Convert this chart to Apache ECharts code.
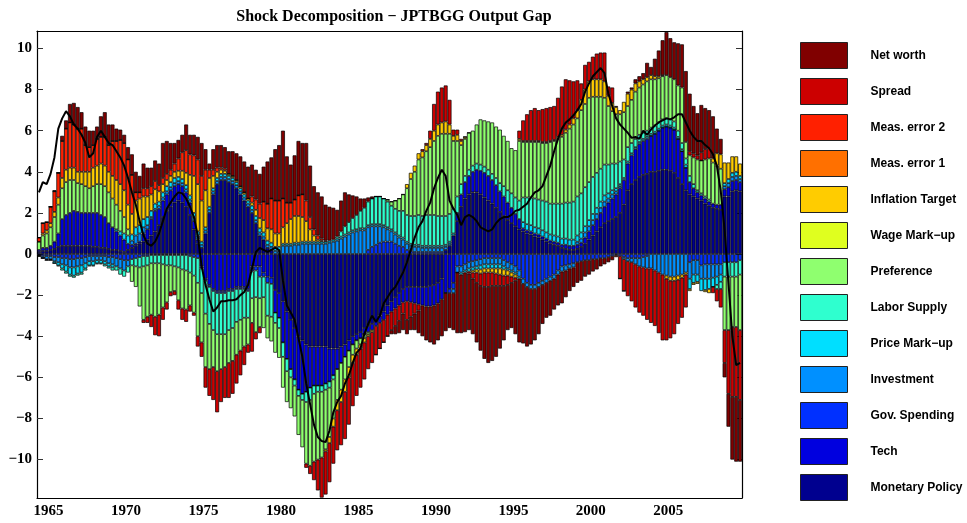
<!DOCTYPE html>
<html>
<head>
<meta charset="utf-8">
<script src="https://cdn.jsdelivr.net/npm/echarts@6/dist/echarts.min.js"></script>
<style>
  html, body { margin: 0; padding: 0; background: #fff; }
  #chart { width: 967px; height: 523px; }
</style>
</head>
<body>
<div id="chart"></div>
<script>
// quarterly sample 1964Q2 .. 2009Q3
const startYear = 1964, startQuarter = 2, nQuarters = 182;
const quarters = [];
for (let k = 0; k < nQuarters; k++) {
  const q = startQuarter - 1 + k;
  quarters.push((startYear + Math.floor(q / 4)) + 'Q' + (q % 4 + 1));
}
const xTickYears = [1965, 1970, 1975, 1980, 1985, 1990, 1995, 2000, 2005];
const yTicks = [-10, -8, -6, -4, -2, 0, 2, 4, 6, 8, 10];

// shock contributions
const monetary = [
  .1,.15,.15,.2,.25,.35,.4,.4,.4,.4, .4,.4,.4,.4,.35,.35,.3,.3,.25,.2,
  .2,.15,.1,.2,.3,.4,.5,.6,.7,.9, 1.1,1.4,1.8,2.1,2.3,2.5,2.6,2.5,2.3,1.9,
  1.2,.5,.3,1.0,2.0,2.9,3.4,3.6,3.6,3.5, 3.4,3.2,2.9,2.6,2.3,2.0,1.5,.9,.7,.3,
  .2,-1.75,-1.9,-2.3,-2.8,-3.2,-3.6,-4.0,-4.2,-4.4, -4.5,-4.5,-4.5,-4.5,-4.5,-4.6,-4.6,-4.6,-4.5,-4.4,
  -4.2,-4.0,-3.9,-3.8,-3.6,-3.5,-3.4,-3.2,-3.0,-2.8, -2.5,-2.3,-2.1,-1.9,-1.7,-1.6,-1.6,-1.6,-1.6,-1.6,
  -1.6,-1.55,-1.5,-1.4,-1.2,.2,.4,.9,1.6,2.3, 2.7,2.9,3.0,3.0,2.9,2.75,2.6,2.45,2.25,2.05,
  1.85,1.65,1.5,1.35,1.2,1.1,1.0,.95,.85,.8, .7,.6,.5,.45,.4,.3,.25,.2,.2,.25,
  .35,.5,.7,.9,1.1,1.3,1.5,1.6,1.7,1.8, 2.0,2.4,3.1,3.4,3.6,3.75,3.85,3.9,4.0,4.0,
  4.05,4.1,4.1,4.05,3.95,3.7,3.4,3.1,2.9,2.8, 2.7,2.6,2.45,2.35,2.25,2.2,2.15,2.8,2.8,3.05,
  3.1,3.05
];
const tech = [
  .1,.15,.15,.2,.35,.65,1.3,1.5,1.6,1.7, 1.65,1.6,1.6,1.6,1.65,1.65,1.6,1.5,1.25,1.1,
  .9,.75,.6,.3,.15,.1,.1,.4,.5,.8, 1.0,.8,.8,.8,.8,.8,.8,.8,.7,.6,
  .4,.2,-.6,-1.2,-1.5,-1.7,-1.8,-1.8,-1.8,-1.7, -1.7,-1.6,-1.6,-1.6,-1.7,-.6,-.6,-.6,-.9,-1.1,
  -1.15,-1.1,-1.2,-2.0,-2.3,-2.4,-2.5,-2.6,-2.6,-2.3, -2.0,-1.9,-1.9,-1.9,-1.8,-1.6,-1.3,-1.0,-.8,-.6,
  -.5,-.4,-.3,-.3,-.3,-.3,-.3,-.3,-.35,-.4, -.45,-.5,-.55,-.6,-.65,-.7,-.75,-.8,-.85,-.9,
  -.95,-1.0,-1.0,-1.0,-1.0,-1.9,-1.7,-1.4,.4,.6, .8,.9,1.0,1.1,1.15,1.2,1.2,1.15,1.1,1.0,
  .95,.85,.75,.6,.5,.15,.15,.15,.15,.15, .15,.15,.15,.15,.15,.15,.2,.2,.2,.2,
  .2,.3,.4,.5,.6,.7,.8,.9,1.0,1.1, 1.2,1.2,1.3,1.4,1.5,1.6,1.65,1.7,1.75,1.85,
  1.95,2.05,2.1,2.1,2.1,1.9,1.6,1.1,.6,.4, .3,.25,.25,.2,.2,.2,.25,.35,.45,.5,
  .5,.45
];
const gov = [
  -.05,-.1,-.1,-.1,-.15,-.15,-.2,-.2,-.25,-.25, -.2,-.2,-.15,-.1,-.1,-.1,-.1,-.1,-.15,-.15,
  -.2,-.25,-.3,-.3,-.25,-.2,-.15,-.1,-.1,-.05, -.05,-.05,-.05,-.05,-.05,-.05,-.05,-.05,-.05,-.1,
  -.15,-.2,-.1,-.1,-.1,-.1,-.1,-.1,-.1,-.1, -.1,-.1,-.1,-.1,-.1,-.25,-.2,-.5,-.2,-.3,
  -.3,0,0,0,0,0,0,0,0,0, 0,0,0,0,0,0,0,0,0,0,
  0,0,0,0,0,.2,.35,.45,.55,.6, .6,.6,.5,.4,.35,.2,.15,.1,.1,.1,
  .1,.1,.1,.1,.1,0,-.2,-.3,-.6,-.6, -.5,-.4,-.35,-.3,-.25,-.2,-.2,-.2,-.2,-.2,
  -.3,-.4,-.5,-.6,-.8,-1.2,-1.4,-1.5,-1.5,-1.4, -1.3,-1.2,-1.1,-1.0,-.8,-.6,-.55,-.5,-.45,-.4,
  -.35,-.3,-.3,-.25,-.25,-.2,-.2,-.15,-.1,-.05, -.1,-.15,-.2,-.2,-.2,-.2,-.15,-.1,0,0,
  0,0,0,0,0,0,0,0,-.4,-.3, -.3,-.55,-.5,-.5,-.5,-.5,-.5,-.4,-.4,-.4,
  -.4,-.3
];
const investment = [
  -.05,-.1,-.15,-.15,-.2,-.25,-.3,-.35,-.4,-.4, -.4,-.35,-.3,-.25,-.25,-.2,-.2,-.25,-.3,-.35,
  -.4,-.45,-.5,-.3,.2,.4,.4,.3,.2,.1, .1,.15,.15,.15,.15,.15,.15,.15,.15,.15,
  .2,.2,.15,.15,.15,.15,.15,.15,.15,.15, .15,.15,.15,.15,.15,.15,.15,.15,.15,.15,
  .15,.15,.15,.4,.4,.4,.45,.45,.5,.5, .5,.5,.5,.5,.5,.55,.6,.65,.75,.85,
  .95,1.05,1.1,1.15,1.15,1.1,1.0,.9,.8,.7, .6,.5,.45,.4,.35,.3,.25,.25,.25,.2,
  .2,.2,.2,.2,.2,.15,.1,-.2,-.3,-.3, -.3,-.3,-.3,-.3,-.3,-.3,-.3,-.3,-.3,-.3,
  -.3,-.3,-.3,-.3,-.3,-.25,-.2,-.2,-.2,-.2, -.2,-.2,-.2,-.2,-.2,-.25,-.25,-.2,-.2,.15,
  .2,.25,.25,.25,.25,.25,.25,.2,.2,.15, .1,-.1,-.15,-.2,-.3,-.4,-.5,-.6,-.7,-.8,
  -.9,-1.0,-1.05,-1.1,-1.1,-1.05,-1.0,-.9,-.8,-.7, -.7,-.65,-.7,-.7,-.65,-.6,-.5,.15,.2,.2,
  .2,.15
];
const priceMarkup = [
  0,0,-.05,-.05,-.1,-.15,-.2,-.3,-.35,-.4, -.35,-.35,-.25,-.2,-.2,-.15,-.15,-.15,-.15,-.15,
  .1,.2,.3,.4,.3,.4,.4,.4,.4,.3, .25,.2,.25,.25,.25,.25,.2,.2,.2,.2,
  .2,.2,.15,.15,.15,.15,.15,.15,.15,.15, .15,.15,.15,.15,.15,.2,.2,.2,.2,.2,
  .2,.2,.2,.1,.1,.1,.1,.1,.1,.1, .1,.1,.1,.1,.1,.1,.1,.1,.1,.1,
  .1,.1,.1,.1,.1,.1,.1,.1,.1,.1, .1,.1,.1,.1,.1,.1,.1,.1,.1,.1,
  .1,.1,.1,.1,.1,.1,.1,.1,0,-.1, -.1,-.15,-.15,-.15,-.2,-.2,-.2,-.2,-.2,-.2,
  -.15,-.1,-.1,-.1,-.1,.3,.3,.3,.3,.3, .3,.3,.3,.3,.3,.3,.3,.3,.3,.3,
  .3,.3,.3,.3,.3,.3,.3,.25,.2,.15, .1,.1,.1,.1,.1,.1,.1,.1,.1,.1,
  .1,.1,.1,.1,.1,.1,.1,.15,-.5,-.4, -.35,-.6,-.55,-.5,-.45,-.4,-.35,.15,.2,.2,
  .2,.15
];
const laborSupply = [
  0,0,0,0,0,-.05,-.1,-.1,-.1,-.1, -.1,-.1,-.1,-.05,-.05,-.05,-.05,-.1,-.1,-.15,
  -.2,-.3,-.3,-.3,-.3,-.4,-.5,-.5,-.45,-.4, -.4,-.4,-.45,-.5,-.5,-.55,-.6,-.7,-.75,-.8,
  -.9,-1.2,-1.2,-1.6,-1.8,-1.9,-2.0,-2.0,-2.0,-1.9, -1.8,-1.6,-1.5,-1.4,-1.3,-1.3,-1.3,-1.05,-1.0,-1.6,
  -1.6,-.5,-.5,-.7,-.6,-.4,-.3,-.3,-.3,-.5, -.6,-.4,-.3,-.3,-.3,-.3,-.2,.1,.25,.4,
  .5,.6,.7,.85,1.0,1.15,1.25,1.35,1.35,1.3, 1.25,1.15,1.15,1.2,1.3,1.3,1.35,1.4,1.45,1.45,
  1.5,1.5,1.5,1.45,1.45,1.4,1.35,1.2,.8,.5, .3,.3,.3,.3,.3,.3,.3,.3,.35,.4,
  .5,.6,.7,.8,.9,1.2,1.3,1.35,1.4,1.4, 1.45,1.5,1.5,1.55,1.6,1.7,1.75,1.8,1.85,1.9,
  1.9,1.9,1.85,1.8,1.7,1.6,1.5,1.4,1.3,1.2, 1.1,.9,.7,.5,.4,.35,.3,.3,.3,.3,
  .3,.3,.3,.3,.3,.3,.3,.3,.3,.2, .1,.1,.1,.1,0,-.2,-.35,-.7,-.7,-.7,
  -.7,-.7
];
const preference = [
  .4,.6,.7,.9,1.2,1.4,1.5,1.6,1.6,1.5, 1.4,1.4,1.3,1.2,1.3,1.4,1.5,1.5,1.5,1.4,
  1.2,1.0,.8,.3,-.8,-1.0,-1.9,-2.6,-2.5,-2.5, -2.6,-2.5,-2.1,-1.8,-1.3,-1.2,-1.6,-1.9,-1.9,-1.6,
  -1.8,-2.6,-2.4,-2.6,-2.2,-1.8,-1.8,-1.7,-1.6,-1.6, -1.6,-1.6,-1.5,-1.4,-1.3,-1.2,-1.7,-1.4,-1.5,-1.1,
  -1.2,-1.45,-1.45,-1.5,-1.5,-1.5,-1.5,-1.9,-2.3,-3.0, -3.2,-3.3,-3.3,-3.2,-2.9,-2.4,-1.9,-1.5,-1.3,-1.1,
  -.8,-.5,-.4,-.3,-.2,-.1,0,0,0,0, .1,.2,.4,.6,.8,1.3,1.8,2.15,2.7,2.85,
  3.1,3.3,3.6,3.9,4.0,4.0,3.9,3.3,2.7,1.9, 1.8,1.8,1.7,1.9,2.2,2.25,2.35,2.5,2.5,2.6,
  2.45,2.4,2.2,2.3,2.9,2.7,2.7,2.7,2.75,2.8, 2.8,2.85,3.0,3.05,3.15,3.25,3.4,3.6,3.75,3.8,
  4.05,4.05,4.1,3.9,3.7,3.5,3.25,2.85,2.55,2.4, 2.3,2.3,2.0,2.1,2.3,2.3,2.35,2.4,2.35,2.25,
  2.15,2.1,2.1,2.05,2.05,2.2,2.7,.8,1.0,1.3, 1.5,1.6,1.8,2.0,2.0,1.9,1.75,-2.6,-2.6,-2.45,
  -2.45,-2.7
];
const wageMarkup = [];
const inflTarget = [
  0,.1,.15,.2,.25,.35,.5,.6,.6,.6, .55,.6,.7,.8,.9,.9,1.0,1.0,1.0,1.1,
  1.2,1.3,1.3,1.2,1.0,1.3,1.3,1.1,1.0,.8, .7,.5,.4,.3,.3,.3,.3,.4,.6,1.0,
  1.8,2.3,2.0,1.8,1.4,.6,.3,.2,.15,.1, .1,.1,.1,.1,.1,.15,.3,.5,.6,.6,
  .65,.65,.65,.8,1.0,1.2,1.3,1.3,1.2,1.0, .6,.3,.1,.05,-.1,-.3,-.4,-.5,-.6,-.6,
  -.5,-.4,-.3,-.2,-.2,-.1,-.1,0,0,0, 0,0,0,0,0,.2,.3,.3,.3,.3,
  .3,.4,.5,.55,.55,.6,.45,.25,.3,.2, .1,0,-.1,-.15,-.2,-.2,-.2,-.2,-.25,-.3,
  -.3,-.25,-.2,-.15,.1,.05,.05,.05,.05,.05, .05,.05,.05,.05,.1,.1,.15,.2,.3,.4,
  .5,.7,.8,.85,.85,.85,.8,.5,.4,.35, .2,.5,.6,.5,.4,.3,.25,.2,.2,.15,
  .1,.05,-.15,-.2,-.2,-.2,-.15,-.1,-.1,-.1, -.1,0,-.1,-.2,.2,.6,.7,1.0,.8,.8,
  .75,.6
];
const measErr1 = [];
const measErr2 = [
  .2,.5,.4,.8,1.0,1.2,1.8,2.0,2.2,2.1, 2.1,2.1,1.3,1.2,1.1,1.3,1.3,1.4,1.3,1.7,
  1.9,2.15,2.3,2.2,1.9,.4,.3,.4,.4,.4, .4,.3,.3,.3,.3,.4,.6,.9,1.1,1.0,
  1.0,1.2,1.2,1.0,.4,.3,.2,.1,.1,0, 0,0,0,0,0,.3,.5,.7,.9,1.2,
  1.5,1.6,1.6,1.4,1.0,.8,.8,1.0,1.1,1.0, .6,.3,.2,.1,.05
];
const spread = [
  0,0,0,0,0,0,0,0,0,0, 0,0,0,0,0,0,0,0,0,0,
  0,0,0,0,0,0,0,-.15,-.3,-.6, -.9,-1.05,-.6,-.35,-.2,-.2,-.45,-.55,-.6,-.3,
  -.15,-.5,-.7,-1.0,-1.3,-1.6,-2.0,-1.6,-1.5,-1.7, -1.6,-1.4,-1.2,-.9,-.4,-1.4,-.35,-.3,0,0,
  0,0,0,0,0,0,0,0,0,-.2, -.4,-.9,-1.5,-1.95,-2.1,-1.9,-1.8,-1.95,-2.1,-2.3,
  -2.3,-2.1,-2.0,-1.9,-1.8,-1.6,-1.5,-1.4,-1.25,-1.1, -1.05,-.9,-.85,-.75,-.55,-.9,-.7,-.5,-.3,.1,
  .1,.4,1.3,1.6,1.7,1.75,1.2,.3,.25,.1, 0,-.1,-.3,-.5,-.6,-.7,-.7,-.65,-.6,-.55,
  -.5,-.45,-.3,-.15,.4,1.0,1.3,1.5,1.6,1.5, 1.6,1.65,1.65,1.65,1.9,2.35,2.45,2.15,1.8,1.45,
  .8,1.2,.95,1.1,1.25,1.3,1.4,.45,.75,.05, -1.1,-1.55,-1.7,-1.9,-2.1,-2.25,-2.35,-2.5,-2.65,-2.7,
  -2.95,-3.2,-3.0,-2.8,-2.6,-2.15,-1.95,-1.6,.2,.2, .2,.4,.5,.5,-.3,-.6,-.9,-1.6,-3.1,-3.4,
  -3.4,-3.4
];
const netWorth = [
  0,0,0,0,.05,0,.25,.4,.9,1.05, 1.05,.8,.9,.8,.7,.6,1.0,1.2,1.0,.8,
  .6,.5,.4,.6,1.0,1.0,.8,1.2,1.0,.9, 1.0,1.05,1.7,1.6,1.3,1.0,.9,.85,1.25,.95,
  1.0,1.1,1.6,1.0,.3,1.0,1.1,1.1,1.05,1.1, 1.2,1.3,1.45,1.5,1.55,1.55,1.45,1.45,1.7,2.05,
  2.0,2.5,2.7,3.3,2.25,1.85,2.15,2.65,2.5,2.8, 2.5,2.1,2.1,2.05,1.75,1.65,1.55,1.3,1.5,1.65,
  1.35,1.1,.9,.6,.45,.2,.1,0,0,0, 0,-.2,-.4,-.6,-.8,-.7,-.65,-.8,-1.1,-1.5,
  -1.65,-1.75,-1.9,-1.8,-1.8,-1.85,-1.7,-1.8,-2.95,-2.85, -2.9,-2.75,-2.7,-2.9,-3.15,-3.5,-3.7,-3.65,-3.45,-3.05,
  -2.65,-2.2,-2.2,-2.6,-3.1,-2.9,-2.9,-2.7,-2.5,-2.3, -1.9,-1.7,-1.7,-1.5,-1.5,-1.55,-1.3,-1.1,-.95,-1.0,
  -.95,-.8,-.7,-.6,-.5,-.4,-.3,-.25,-.2,-.1, 0,0,.1,.1,.2,.25,.3,.7,.4,.85,
  1.25,1.7,2.1,1.9,1.8,2.05,2.1,3.45,2.8,2.3, 2.05,2.3,2.0,1.85,2.05,1.2,.75,-.7,-1.6,-3.05,
  -3.15,-3.0
];
// output gap (black line)
const outputGap = [
  3.0,3.5,3.4,3.9,4.7,6.1,6.6,6.95,6.7,6.3, 6.1,5.8,5.4,4.7,4.9,5.7,6.0,5.7,5.4,5.3,
  5.0,4.7,4.3,3.7,3.0,2.4,1.6,0.9,0.5,0.4, 0.6,1.0,1.6,2.2,2.5,2.8,3.0,2.95,2.7,2.3,
  1.8,0.9,-0.6,-1.5,-2.2,-2.8,-2.6,-2.3,-2.3,-2.25, -2.25,-2.2,-2.0,-1.85,-1.5,-0.7,0.1,0.3,0.2,0.1,
  0.2,0.3,0.2,-1.3,-2.5,-2.85,-3.2,-4.1,-5.0,-6.3, -7.3,-8.3,-8.9,-9.1,-9.15,-8.6,-7.7,-7.2,-6.9,-6.3,
  -5.9,-5.3,-4.8,-4.6,-3.9,-3.4,-3.0,-3.3,-3.0,-2.4, -2.1,-1.8,-1.6,-1.25,-0.9,-0.4,0.2,0.8,1.3,1.6,
  2.1,2.5,3.2,3.7,4.1,3.8,2.6,2.2,1.9,1.4, 1.8,1.9,1.8,1.6,1.3,1.2,1.1,1.2,1.5,1.7,
  1.8,1.8,1.9,2.1,2.15,2.3,2.45,2.75,3.0,3.1, 3.3,3.8,4.3,5.0,5.6,6.1,6.4,6.55,6.75,7.0,
  7.3,7.9,8.3,8.65,8.85,9.05,8.8,7.8,7.2,6.6, 6.3,6.1,5.9,5.65,5.7,5.6,6.0,5.8,6.05,6.25,
  6.4,6.5,6.6,6.55,6.65,6.8,6.8,6.4,6.0,5.7, 5.5,5.5,5.3,5.15,4.85,4.3,3.1,1.2,-1.4,-4.0,
  -5.4,-5.3
];

// stacking order: first entry sits next to zero
const shocks = [
  { name: 'Monetary Policy', color: '#00008f', data: monetary },
  { name: 'Tech', color: '#0000df', data: tech },
  { name: 'Gov. Spending', color: '#0030ff', data: gov },
  { name: 'Investment', color: '#0090ff', data: investment },
  { name: 'Price Mark\u2212up', color: '#00dfff', data: priceMarkup },
  { name: 'Labor Supply', color: '#2fffcf', data: laborSupply },
  { name: 'Preference', color: '#8fff6f', data: preference },
  { name: 'Wage Mark\u2212up', color: '#dfff1f', data: wageMarkup },
  { name: 'Inflation Target', color: '#ffcc00', data: inflTarget },
  { name: 'Meas. error 1', color: '#ff7000', data: measErr1 },
  { name: 'Meas. error 2', color: '#ff2000', data: measErr2 },
  { name: 'Spread', color: '#cc0000', data: spread },
  { name: 'Net worth', color: '#800000', data: netWorth },
];

const isTickQuarter = (idx, val) => val.endsWith('Q1') && xTickYears.includes(parseInt(val));

const chart = echarts.init(document.getElementById('chart'));
const serif = '"Liberation Serif", "DejaVu Serif", serif';

const option = {
  animation: false,
  backgroundColor: '#fff',
  title: {
    text: 'Shock Decomposition \u2212 JPTBGG Output Gap',
    left: 389,
    top: 4,
    textAlign: 'center',
    textStyle: { fontFamily: serif, fontWeight: 'bold', fontSize: 16, color: '#000' },
  },
  legend: {
    orient: 'vertical',
    left: 800,
    top: 42,
    padding: 0,
    itemWidth: 47,
    itemHeight: 26,
    itemGap: 9,
    icon: 'rect',
    selectedMode: false,
    data: shocks.map((s) => s.name).reverse(),
    itemStyle: { borderColor: '#222', borderWidth: 1 },
    textStyle: {
      fontFamily: '"Liberation Sans", Arial, sans-serif',
      fontWeight: 'bold',
      fontSize: 12,
      color: '#000',
      padding: [0, 0, 0, 18],
    },
  },
  grid: { left: 37, top: 31, right: 225, bottom: 25 },
  xAxis: [
    {
      type: 'category',
      data: quarters,
      boundaryGap: true,
      axisLine: { onZero: false, lineStyle: { color: '#000', width: 1.2 } },
      axisTick: { inside: true, length: 6, interval: isTickQuarter, lineStyle: { color: '#333' } },
      axisLabel: {
        interval: isTickQuarter,
        formatter: (v) => v.slice(0, 4),
        fontFamily: serif, fontWeight: 'bold', fontSize: 15, color: '#000',
        margin: 6, padding: [0, 4, 0, 0],
      },
      splitLine: { show: false },
    },
    {
      type: 'category',
      position: 'top',
      data: quarters,
      boundaryGap: true,
      axisLine: { onZero: false, lineStyle: { color: '#000', width: 1.2 } },
      axisTick: { inside: true, length: 6, interval: isTickQuarter, lineStyle: { color: '#333' } },
      axisLabel: { show: false },
      splitLine: { show: false },
    },
  ],
  yAxis: [
    {
      type: 'value',
      min: -11.87,
      max: 10.85,
      axisLine: { show: true, lineStyle: { color: '#000', width: 1.2 } },
      axisTick: { show: true, inside: true, length: 6, customValues: yTicks, lineStyle: { color: '#333' } },
      axisLabel: {
        customValues: yTicks,
        fontFamily: serif, fontWeight: 'bold', fontSize: 15, color: '#000', margin: 5,
        formatter: (v) => (v < 0 ? '\u2212' + Math.abs(v) : String(v)),
      },
      splitLine: { show: false },
    },
    {
      type: 'value',
      position: 'right',
      min: -11.87,
      max: 10.85,
      axisLine: { show: true, lineStyle: { color: '#000', width: 1.2 } },
      axisTick: { show: true, inside: true, length: 6, customValues: yTicks, lineStyle: { color: '#333' } },
      axisLabel: { show: false },
      splitLine: { show: false },
    },
  ],
  series: [
    ...shocks.map((s) => ({
      name: s.name,
      type: 'bar',
      stack: 'shocks',
      data: s.data,
      barCategoryGap: '0%',
      itemStyle: { color: s.color, borderColor: '#000', borderWidth: 0.7 },
      emphasis: { disabled: true },
    })),
    {
      name: 'Output gap',
      type: 'line',
      data: outputGap,
      symbol: 'none',
      z: 10,
      lineStyle: { color: '#000', width: 2 },
      emphasis: { disabled: true },
    },
  ],
};
chart.setOption(option);
</script>
</body>
</html>
